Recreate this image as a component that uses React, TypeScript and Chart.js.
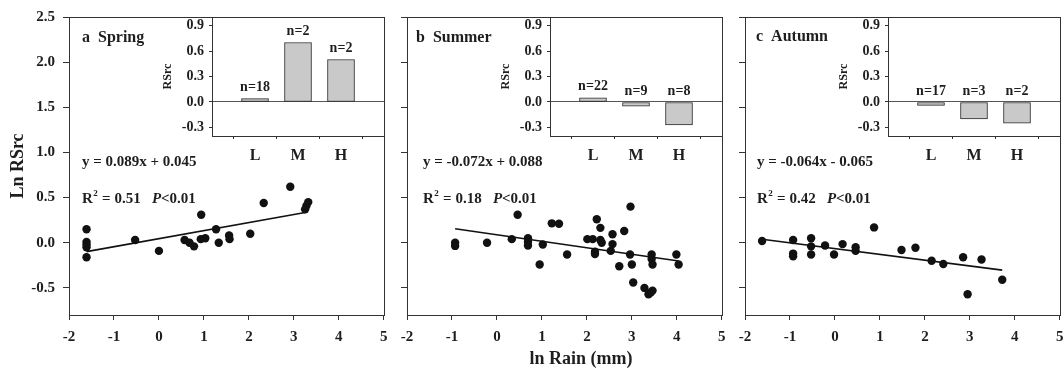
import React, { useEffect, useRef } from 'react';
import { Chart, registerables } from 'chart.js';

Chart.register(...registerables);

// ---------- data ----------
const xTickValues = [-2, -1, 0, 1, 2, 3, 4, 5];
const yTickValues = [-0.5, 0, 0.5, 1, 1.5, 2, 2.5];
const insetYTickValues = [-0.3, 0, 0.3, 0.6, 0.9];
const rainClasses = ['L', 'M', 'H'];
const panelTitles = ['a  Spring', 'b  Summer', 'c  Autumn'];

const springX = [-1.61, -1.61, -1.61, -1.61, -1.61, -0.53, 0.0, 0.57, 0.68, 0.78, 0.94, 0.93, 1.03, 1.27, 1.33, 1.56, 1.57, 2.03, 2.33, 2.92, 3.25, 3.28, 3.32];
const springY = [0.15, 0.01, -0.02, -0.05, -0.16, 0.03, -0.09, 0.03, 0.0, -0.04, 0.31, 0.04, 0.05, 0.15, 0.0, 0.08, 0.04, 0.1, 0.44, 0.62, 0.37, 0.41, 0.45];

const summerX = [-0.93, -0.93, -0.22, 0.33, 0.46, 0.69, 0.69, 0.69, 0.95, 1.02, 1.22, 1.38, 1.56, 2.01, 2.13, 2.22, 2.3, 2.3, 2.33, 2.18, 2.18, 2.57, 2.57, 2.53, 2.72, 2.83, 2.97, 2.96, 3.0, 3.03, 3.28, 3.37, 3.42, 3.46, 3.44, 3.44, 3.46, 3.99, 4.04];
const summerY = [0.0, -0.035, 0.0, 0.04, 0.31, 0.05, 0.01, -0.03, -0.24, -0.02, 0.215, 0.21, -0.13, 0.04, 0.04, 0.26, 0.165, 0.03, 0.0, -0.1, -0.125, 0.095, -0.015, -0.09, -0.26, 0.13, 0.4, -0.13, -0.24, -0.44, -0.5, -0.57, -0.55, -0.53, -0.13, -0.18, -0.24, -0.13, -0.24];

const autumnX = [-1.62, -0.93, -0.93, -0.93, -0.53, -0.53, -0.53, -0.22, -0.02, 0.17, 0.46, 0.46, 0.87, 1.48, 1.79, 2.15, 2.41, 2.85, 2.95, 3.26, 3.72];
const autumnY = [0.02, 0.03, -0.12, -0.15, 0.05, -0.04, -0.13, -0.03, -0.13, -0.015, -0.05, -0.09, 0.17, -0.08, -0.055, -0.2, -0.235, -0.16, -0.57, -0.185, -0.41];

const slopes = [0.089, -0.072, -0.064];
const intercepts = [0.045, 0.088, -0.065];
const rSquared = ['0.51', '0.18', '0.42'];
const pValueText = '<0.01';
const trendXStart = [-1.61, -0.93, -1.62];
const trendXEnd = [3.25, 4.04, 3.72];

const springBars = [0.04, 0.7, 0.5];
const summerBars = [0.05, -0.05, -0.27];
const autumnBars = [-0.04, -0.2, -0.25];
const springN = [18, 2, 2];
const summerN = [22, 9, 8];
const autumnN = [17, 3, 2];

// ---------- layout / style ----------
const FONT = '"Liberation Serif", "Times New Roman", serif';
const TEXT = '#1e1e1e';
const AXIS = '#333';
const PANEL_LEFTS = [69, 407, 745];
const PANEL_W = 315;
const CANVAS_W = 388;
const Y_AXIS_W = 69;
const INSET_OFFSET = 143;
const INSET_AXIS_W = 52;
const INSET_H = 165;
const titleDx = [13, 9, 11];
const titleY = [38, 37.5, 36.5];
const eqDx = [13, 16, 12];

function eqText(i: number) {
  const s = slopes[i].toFixed(3);
  const b = intercepts[i];
  return `y = ${s}x ${b < 0 ? '-' : '+'} ${Math.abs(b).toFixed(3)}`;
}

const framePlugin = {
  id: 'frame',
  afterDraw(chart: any) {
    const { ctx, chartArea } = chart;
    ctx.save();
    ctx.strokeStyle = AXIS;
    ctx.lineWidth = 1;
    const l = Math.round(chartArea.left) + 0.5;
    const t = Math.round(chartArea.top) + 0.5;
    const r = Math.round(chartArea.right) + 0.5;
    const b = Math.round(chartArea.bottom) + 0.5;
    ctx.strokeRect(l, t, r - l, b - t);
    ctx.restore();
  },
};

function makeTextPlugin(i: number) {
  return {
    id: 'panelText' + i,
    afterDraw(chart: any) {
      const { ctx, chartArea } = chart;
      ctx.save();
      ctx.fillStyle = TEXT;
      ctx.textBaseline = 'middle';
      ctx.textAlign = 'left';
      ctx.font = `bold 16px ${FONT}`;
      ctx.fillText(panelTitles[i], chartArea.left + titleDx[i], titleY[i]);

      ctx.font = `bold 15px ${FONT}`;
      const x0 = chartArea.left + eqDx[i];
      ctx.fillText(eqText(i), x0, 162);

      // R^2 line
      let x = x0;
      const y = 199;
      ctx.font = `bold 15px ${FONT}`;
      ctx.fillText('R', x, y);
      x += ctx.measureText('R').width;
      ctx.font = `bold 9px ${FONT}`;
      ctx.fillText('2', x + 0.5, y - 5);
      x += ctx.measureText('2').width + 1;
      ctx.font = `bold 15px ${FONT}`;
      const mid = ` = ${rSquared[i]}   `;
      ctx.fillText(mid, x, y);
      x += ctx.measureText(mid).width;
      ctx.font = `italic bold 15px ${FONT}`;
      ctx.fillText('P', x, y);
      x += ctx.measureText('P').width;
      ctx.font = `bold 15px ${FONT}`;
      ctx.fillText(pValueText, x, y);

      if (i === 1) {
        ctx.font = `bold 18px ${FONT}`;
        ctx.textAlign = 'center';
        ctx.fillText('ln Rain (mm)', 581 - (PANEL_LEFTS[1] - Y_AXIS_W), 359);
      }
      ctx.restore();
    },
  };
}

function ScatterPanel({ idx, xs, ys }: { idx: number; xs: number[]; ys: number[] }) {
  const ref = useRef<HTMLCanvasElement | null>(null);
  useEffect(() => {
    if (!ref.current) return;
    const showY = idx === 0;
    const pts = xs.map((x, k) => ({ x, y: ys[k] }));
    const trend = [trendXStart[idx], trendXEnd[idx]].map((x) => ({ x, y: slopes[idx] * x + intercepts[idx] }));
    const tickFont = { family: FONT, size: 15, weight: 'bold' as const };
    const chart = new Chart(ref.current, {
      type: 'scatter',
      data: {
        datasets: [
          {
            type: 'line' as any,
            data: trend,
            borderColor: '#111',
            borderWidth: 1.6,
            pointRadius: 0,
            fill: false,
            tension: 0,
            order: 0,
          } as any,
          {
            data: pts,
            pointRadius: 4.2,
            backgroundColor: '#111',
            borderColor: '#111',
            borderWidth: 0,
            order: 1,
          },
        ],
      },
      options: {
        animation: false,
        responsive: false,
        events: [],
        layout: { padding: { left: 0, right: CANVAS_W - Y_AXIS_W - PANEL_W, top: 17, bottom: 17 } },
        plugins: { legend: { display: false }, tooltip: { enabled: false } },
        scales: {
          x: {
            type: 'linear',
            min: -2,
            max: 5,
            afterBuildTicks: (s: any) => {
              s.ticks = xTickValues.map((v) => ({ value: v }));
            },
            afterFit: (s: any) => {
              s.height = 40;
              s.paddingLeft = 0;
              s.paddingRight = 0;
            },
            ticks: {
              font: tickFont,
              color: TEXT,
              padding: 8,
              maxRotation: 0,
              autoSkip: false,
              callback: (v: any) => String(v),
            },
            grid: { drawOnChartArea: false, drawTicks: true, tickLength: 5, tickColor: AXIS, tickWidth: 1 },
            border: { color: AXIS, width: 1 },
          },
          y: {
            type: 'linear',
            min: -0.8,
            max: 2.5,
            afterBuildTicks: (s: any) => {
              s.ticks = yTickValues.map((v) => ({ value: v }));
            },
            afterFit: (s: any) => {
              s.width = Y_AXIS_W;
              s.paddingTop = 0;
              s.paddingBottom = 0;
            },
            ticks: {
              font: tickFont,
              color: TEXT,
              padding: 8,
              autoSkip: false,
              callback: (v: any) => (showY ? Number(v).toFixed(1) : ''),
            },
            grid: { drawOnChartArea: false, drawTicks: true, tickLength: 6, tickColor: AXIS, tickWidth: 1 },
            border: { color: AXIS, width: 1 },
            title: {
              display: showY,
              text: 'Ln RSrc',
              color: TEXT,
              font: { family: FONT, size: 18, weight: 'bold' },
              padding: { top: 8, bottom: 0 },
            },
          },
        },
      } as any,
      plugins: [framePlugin, makeTextPlugin(idx)],
    });
    return () => chart.destroy();
  }, [idx, xs, ys]);
  return (
    <canvas
      ref={ref}
      width={CANVAS_W}
      height={372}
      style={{ position: 'absolute', left: PANEL_LEFTS[idx] - Y_AXIS_W, top: 0, width: CANVAS_W, height: 372 }}
    />
  );
}

function InsetBars({ idx, values, ns }: { idx: number; values: number[]; ns: number[] }) {
  const ref = useRef<HTMLCanvasElement | null>(null);
  useEffect(() => {
    if (!ref.current) return;
    const labelPlugin = {
      id: 'nLabels',
      afterDatasetsDraw(chart: any) {
        const { ctx } = chart;
        const meta = chart.getDatasetMeta(0);
        const yZero = chart.scales.y.getPixelForValue(0);
        ctx.save();
        ctx.fillStyle = TEXT;
        ctx.font = `bold 14px ${FONT}`;
        ctx.textAlign = 'center';
        ctx.textBaseline = 'bottom';
        meta.data.forEach((el: any, k: number) => {
          const top = Math.min(el.y, yZero);
          ctx.fillText(`n=${ns[k]}`, el.x, top - 4);
        });
        ctx.restore();
      },
    };
    const chart = new Chart(ref.current, {
      type: 'bar',
      data: {
        datasets: [
          {
            data: values.map((v, k) => ({ x: k + 1, y: v })),
            backgroundColor: '#c9c9c9',
            borderColor: '#2a2a2a',
            borderWidth: 1,
            borderSkipped: false,
            barThickness: 27,
          } as any,
        ],
      },
      options: {
        animation: false,
        responsive: false,
        events: [],
        layout: { padding: { left: 0, right: 4, top: 17, bottom: 0 } },
        plugins: { legend: { display: false }, tooltip: { enabled: false } },
        scales: {
          x: {
            type: 'linear',
            min: 0,
            max: 4,
            offset: false,
            afterBuildTicks: (s: any) => {
              s.ticks = rainClasses.map((_, k) => ({ value: k + 1 }));
            },
            afterFit: (s: any) => {
              s.height = INSET_H - 136;
              s.paddingLeft = 0;
              s.paddingRight = 0;
            },
            ticks: {
              font: { family: FONT, size: 16, weight: 'bold' },
              color: TEXT,
              padding: 7,
              autoSkip: false,
              maxRotation: 0,
              callback: (v: any) => rainClasses[Number(v) - 1] ?? '',
            },
            grid: { drawOnChartArea: false, tickLength: 3, tickColor: AXIS },
            border: { color: AXIS, width: 1 },
          },
          y: {
            type: 'linear',
            min: -0.4,
            max: 1.0,
            afterBuildTicks: (s: any) => {
              s.ticks = insetYTickValues.map((v) => ({ value: v }));
            },
            afterFit: (s: any) => {
              s.width = INSET_AXIS_W;
              s.paddingTop = 0;
              s.paddingBottom = 0;
            },
            ticks: {
              font: { family: FONT, size: 14, weight: 'bold' },
              color: TEXT,
              padding: 5,
              autoSkip: false,
              callback: (v: any) => Number(v).toFixed(1),
            },
            grid: {
              drawOnChartArea: true,
              color: (c: any) => (c.tick && c.tick.value === 0 ? '#555' : 'rgba(0,0,0,0)'),
              tickLength: 3,
              tickColor: AXIS,
              lineWidth: 1,
            },
            border: { color: AXIS, width: 1 },
            title: {
              display: true,
              text: 'RSrc',
              color: TEXT,
              font: { family: FONT, size: 12, weight: 'bold' },
              padding: { top: 1, bottom: 0 },
            },
          },
        },
      } as any,
      plugins: [labelPlugin],
    });
    return () => chart.destroy();
  }, [idx, values, ns]);
  const left = PANEL_LEFTS[idx] + INSET_OFFSET - INSET_AXIS_W;
  const w = INSET_AXIS_W + (PANEL_W - INSET_OFFSET) + 4;
  return (
    <canvas
      ref={ref}
      width={w}
      height={INSET_H}
      style={{ position: 'absolute', left, top: 0, width: w, height: INSET_H }}
    />
  );
}

export default function App() {
  return (
    <div
      style={{
        position: 'absolute',
        left: 0,
        top: 0,
        width: 1064,
        height: 372,
        overflow: 'hidden',
        background: '#fff',
      }}
    >
      <ScatterPanel idx={0} xs={springX} ys={springY} />
      <ScatterPanel idx={1} xs={summerX} ys={summerY} />
      <ScatterPanel idx={2} xs={autumnX} ys={autumnY} />
      <InsetBars idx={0} values={springBars} ns={springN} />
      <InsetBars idx={1} values={summerBars} ns={summerN} />
      <InsetBars idx={2} values={autumnBars} ns={autumnN} />
    </div>
  );
}
